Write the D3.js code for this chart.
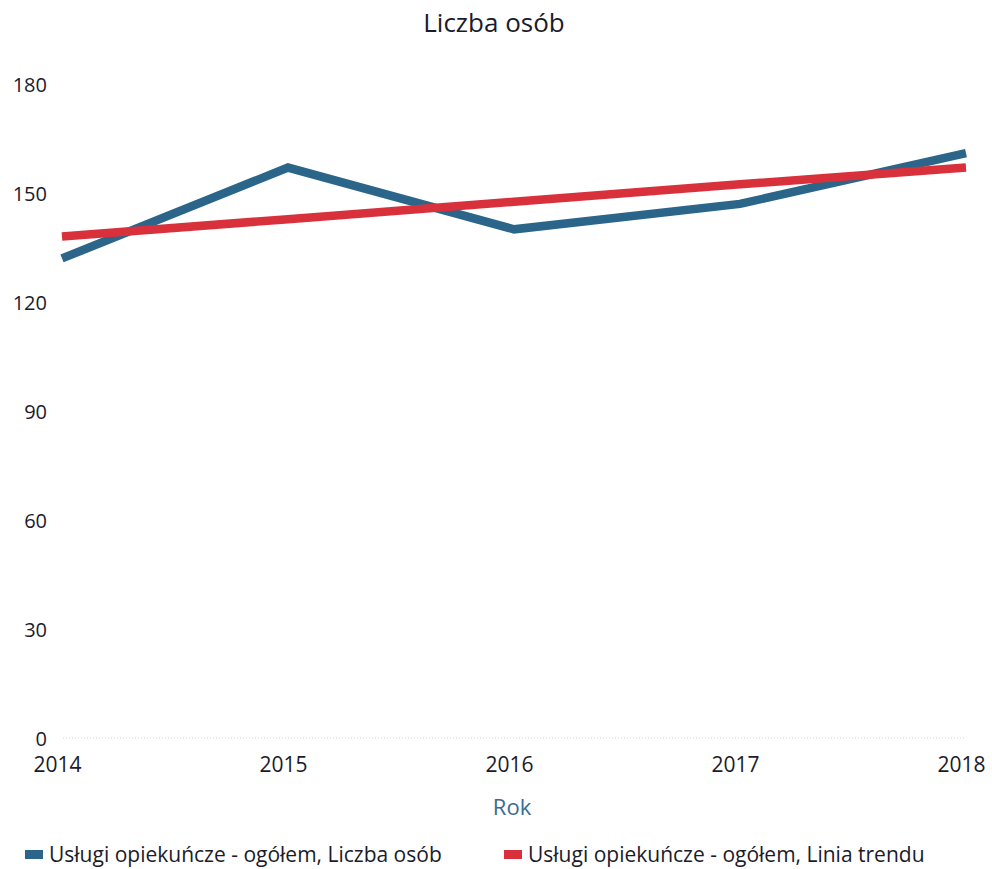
<!DOCTYPE html>
<html>
<head>
<meta charset="utf-8">
<script src="https://cdn.jsdelivr.net/npm/d3@7"></script>
<style>
  body { margin: 0; background: #fff; }
  text { font-family: "Open Sans", sans-serif; }
</style>
</head>
<body>
<div id="chart-area"></div>
<script>
// Data
var years = [2014, 2015, 2016, 2017, 2018];
var liczbaOsob = [132, 157, 140, 147, 161];
var liniaTrendu = [138, 142.8, 147.6, 152.4, 157];
var yTicks = [0, 30, 60, 90, 120, 150, 180];
var seriesNames = ["Usługi opiekuńcze - ogółem, Liczba osób", "Usługi opiekuńcze - ogółem, Linia trendu"];
var colors = ["#2b6589", "#d8313b"];

var width = 992, height = 869;
var textColor = "#1b1b2b";

var svg = d3.select("#chart-area").append("svg").attr("width", width).attr("height", height);

// Scales
var x = d3.scalePoint().domain(years).range([62, 966]);
var y = d3.scaleLinear().domain([0, 180]).range([738, 84]);

// Title
svg.append("text").attr("x", 494).attr("y", 32).attr("text-anchor", "middle")
  .attr("font-size", "26px").style("fill", textColor).text("Liczba osób");

// zero line
svg.append("line").attr("x1", 63).attr("x2", 966).attr("y1", y(0)).attr("y2", y(0))
  .attr("stroke", "#d6d6d6").attr("stroke-width", 1).attr("stroke-dasharray", "1,2");

// Y axis
var yAxis = svg.append("g").attr("class", "y axis").attr("transform", "translate(47,1)")
  .call(d3.axisLeft(y).tickValues(yTicks).tickSize(0).tickPadding(0));
yAxis.select(".domain").remove();
yAxis.selectAll("text").attr("font-size", "20px").style("fill", textColor)
  .style("font-family", "'Open Sans', sans-serif");

// X axis
var xAxis = svg.append("g").attr("class", "x axis").attr("transform", "translate(-5,757)")
  .call(d3.axisBottom(x).tickSize(0).tickPadding(0));
xAxis.select(".domain").remove();
xAxis.selectAll("text").attr("font-size", "21px").style("fill", textColor)
  .style("font-family", "'Open Sans', sans-serif");

// X label
svg.append("text").attr("x", 512).attr("y", 815).attr("text-anchor", "middle")
  .attr("font-size", "22px").style("fill", "#3b6b8f").text("Rok");

// Lines
var line = d3.line().x(function(d, i) { return x(years[i]); }).y(function(d) { return y(d); });

[liczbaOsob, liniaTrendu].forEach(function(s, i) {
  svg.append("path").datum(s).attr("d", line).attr("fill", "none")
    .attr("stroke", colors[i]).attr("stroke-width", 8.5).attr("stroke-linejoin", "miter");
});

// Legend
var legendX = [25, 504];
seriesNames.forEach(function(n, i) {
  var lg = svg.append("g").attr("transform", "translate(" + legendX[i] + ",850)");
  lg.append("rect").attr("width", 18).attr("height", 9).attr("fill", colors[i]);
  lg.append("text").attr("x", 24).attr("y", 12).attr("font-size", "21px")
    .style("fill", textColor).text(n);
});
</script>
</body>
</html>
